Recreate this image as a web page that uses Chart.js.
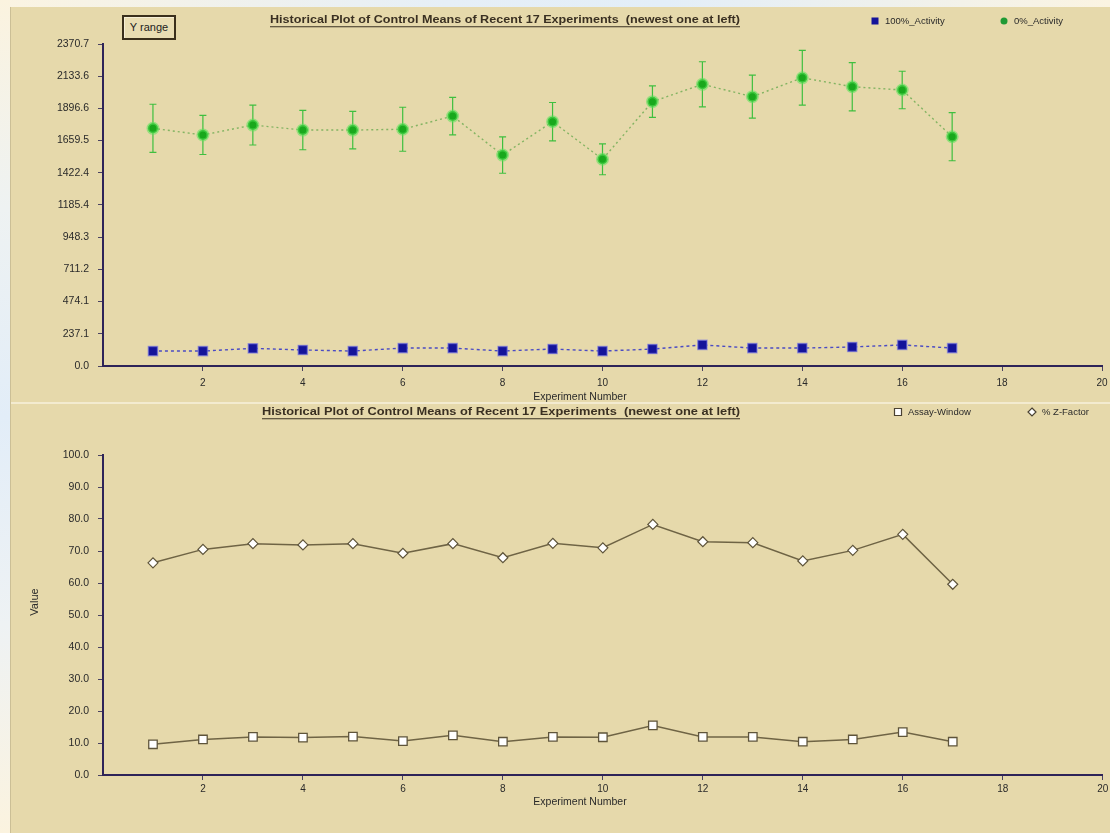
<!DOCTYPE html>
<html>
<head>
<meta charset="utf-8">
<title>Historical Plot of Control Means</title>
<script src="https://cdn.jsdelivr.net/npm/chart.js@4.4.1/dist/chart.umd.min.js"></script>
<style>
  html, body { margin: 0; padding: 0; width: 1110px; height: 833px; overflow: hidden; }
  body {
    position: relative;
    background: linear-gradient(90deg, #fbf4e2 0%, #e6eff7 40%, #e3eef8 60%, #fbf4e2 100%);
    font-family: "Liberation Sans", Arial, sans-serif;
  }
  .edge {
    position: absolute; left: 0; top: 0; width: 10px; height: 833px;
    background: linear-gradient(180deg, #fbf3df 0%, #eef2f2 25%, #e2edf8 50%, #eef2f4 75%, #fbf3df 100%);
  }
  .panel { position: absolute; left: 10px; width: 1100px; background: #e6d9ab; }
  #panelTop { top: 7px; height: 395px; }
  #panelBottom { top: 404px; height: 429px; }
  .sep { position: absolute; left: 10px; top: 402px; width: 1100px; height: 2px; background: #f3ebd0; }
  .frame { position: absolute; left: 10px; top: 7px; width: 1px; height: 826px; background: #cbbf96; }
  canvas { display: block; }
  #yRange {
    position: absolute; left: 122px; top: 15px; width: 50px; height: 21px;
    border: 2px solid #3a2f1c; box-shadow: inset 1px 1px 0 #f6efd6;
    font-size: 11px; line-height: 21px; text-align: center; color: #222;
    background: #e9ddb3;
  }
</style>
</head>
<body>
<div class="edge"></div>
<div class="panel" id="panelTop"><canvas id="topChart" width="1100" height="395"></canvas></div>
<div class="sep"></div>
<div class="panel" id="panelBottom"><canvas id="bottomChart" width="1100" height="429"></canvas></div>
<div class="frame"></div>
<div id="yRange">Y range</div>

<script>
// Experiment numbers (newest one at left)
const experiments = [1, 2, 3, 4, 5, 6, 7, 8, 9, 10, 11, 12, 13, 14, 15, 16, 17];

// Control means of the 0% and 100% activity wells
const activity0    = [1750, 1701, 1774, 1737, 1737, 1743, 1840, 1553, 1799, 1522, 1946, 2074, 1983, 2122, 2056, 2032, 1688];
const activity0Err = [177, 144, 147, 145, 138, 162, 138, 134, 141, 114, 116, 166, 158, 202, 178, 138, 177];
const activity100  = [110, 110, 130, 118, 110, 132, 132, 110, 125, 110, 125, 155, 132, 132, 140, 155, 132];

// Assay quality metrics
const assayWindow = [9.6, 11.1, 11.9, 11.7, 12.0, 10.6, 12.4, 10.4, 11.9, 11.8, 15.5, 11.9, 11.9, 10.4, 11.1, 13.4, 10.4];
const zFactor     = [66.3, 70.5, 72.3, 71.9, 72.3, 69.3, 72.3, 67.9, 72.4, 71.0, 78.3, 72.9, 72.6, 66.9, 70.2, 75.2, 59.6];

// Tick labels
const xTicks = [2, 4, 6, 8, 10, 12, 14, 16, 18, 20];
const topYTicks = [0.0, 237.1, 474.1, 711.2, 948.3, 1185.4, 1422.4, 1659.5, 1896.6, 2133.6, 2370.7];
const bottomYTicks = [0, 10, 20, 30, 40, 50, 60, 70, 80, 90, 100];

const chartTitle = 'Historical Plot of Control Means of Recent 17 Experiments  (newest one at left)';
const xTitle = 'Experiment Number';
const yTitleBottom = 'Value';

const FONT = '"Liberation Sans", Arial, sans-serif';
const AXIS_COLOR = '#2e2458';
const TEXT_COLOR = '#2a2a2a';

const pts = vals => experiments.map((x, i) => ({ x: x, y: vals[i] }));

// Vertical error bars with caps, drawn beneath the markers
const errorBars = {
  id: 'errorBars',
  beforeDatasetsDraw(chart, args, opts) {
    if (!opts || !opts.values) return;
    const ds = chart.data.datasets[opts.datasetIndex];
    const xs = chart.scales.x, ys = chart.scales.y;
    const ctx = chart.ctx;
    ctx.save();
    ctx.strokeStyle = opts.color;
    ctx.lineWidth = opts.lineWidth;
    ds.data.forEach((p, i) => {
      const x = xs.getPixelForValue(p.x);
      const y1 = ys.getPixelForValue(p.y + opts.values[i]);
      const y2 = ys.getPixelForValue(p.y - opts.values[i]);
      ctx.beginPath();
      ctx.moveTo(x, y1); ctx.lineTo(x, y2);
      ctx.moveTo(x - opts.cap, y1); ctx.lineTo(x + opts.cap, y1);
      ctx.moveTo(x - opts.cap, y2); ctx.lineTo(x + opts.cap, y2);
      ctx.stroke();
    });
    ctx.restore();
  }
};

// Underlined title (stretched to its box width), axis titles and the inline legend
const panelText = {
  id: 'panelText',
  afterDraw(chart, args, o) {
    const ctx = chart.ctx;
    ctx.save();
    // chart title
    ctx.font = 'bold ' + o.titleSize + 'px ' + FONT;
    const natural = ctx.measureText(chartTitle).width;
    const sx = o.titleWidth / natural;
    ctx.save();
    ctx.translate(o.titleX, o.titleY);
    ctx.scale(sx, 1);
    ctx.fillStyle = '#3a3022';
    ctx.textAlign = 'center';
    ctx.textBaseline = 'middle';
    ctx.fillText(chartTitle, 0, 0);
    ctx.restore();
    ctx.strokeStyle = '#3a3022';
    ctx.lineWidth = 1;
    ctx.beginPath();
    ctx.moveTo(o.titleX - o.titleWidth / 2, o.titleY + o.titleSize / 2 + 1.5);
    ctx.lineTo(o.titleX + o.titleWidth / 2, o.titleY + o.titleSize / 2 + 1.5);
    ctx.stroke();

    // x axis title
    ctx.textAlign = 'center';
    ctx.textBaseline = 'middle';
    ctx.font = '10.5px ' + FONT;
    ctx.fillStyle = TEXT_COLOR;
    ctx.fillText(xTitle, o.xTitleX, o.xTitleY);

    // y axis title
    if (o.yTitle) {
      ctx.save();
      ctx.translate(o.yTitleX, o.yTitleY);
      ctx.rotate(-Math.PI / 2);
      ctx.font = '11px ' + FONT;
      ctx.fillText(o.yTitle, 0, 0);
      ctx.restore();
    }

    // legend
    ctx.font = '9.5px ' + FONT;
    ctx.textAlign = 'left';
    chart.data.datasets.forEach((ds, i) => {
      const lx = o.legendX[i], ly = o.legendY;
      ctx.fillStyle = ds.legendFill;
      ctx.strokeStyle = ds.legendStroke;
      ctx.lineWidth = 1.2;
      ctx.beginPath();
      if (ds.pointStyle === 'circle') {
        ctx.arc(lx, ly, 3.5, 0, Math.PI * 2);
      } else if (ds.pointStyle === 'rectRot') {
        ctx.moveTo(lx, ly - 4); ctx.lineTo(lx + 4, ly); ctx.lineTo(lx, ly + 4); ctx.lineTo(lx - 4, ly); ctx.closePath();
      } else {
        ctx.rect(lx - 3.5, ly - 3.5, 7, 7);
      }
      ctx.fill();
      if (ds.legendStroke) ctx.stroke();
      ctx.fillStyle = TEXT_COLOR;
      ctx.fillText(ds.label, lx + 10, ly + 0.5);
    });
    ctx.restore();
  }
};

function scalesFor(yTicks, yMax, xHeight, xPad) {
  return {
    x: {
      type: 'linear', min: 0, max: 20,
      afterBuildTicks: s => { s.ticks = xTicks.map(v => ({ value: v })); },
      afterFit: s => { s.height = xHeight; s.paddingLeft = 0; s.paddingRight = 0; },
      ticks: { autoSkip: false, maxRotation: 0, padding: xPad, color: TEXT_COLOR,
               font: { family: FONT, size: 10 }, callback: v => String(v) },
      grid: { drawOnChartArea: false, drawTicks: true, tickLength: 5, color: '#4a4262', lineWidth: 1 },
      border: { display: true, color: AXIS_COLOR, width: 2 }
    },
    y: {
      type: 'linear', min: 0, max: yMax,
      afterBuildTicks: s => { s.ticks = yTicks.map(v => ({ value: v })); },
      afterFit: s => { s.width = 93; s.paddingTop = 0; s.paddingBottom = 0; },
      ticks: { autoSkip: false, padding: 9, color: TEXT_COLOR,
               font: { family: FONT, size: 10.5 }, callback: v => Number(v).toFixed(1) },
      grid: { drawOnChartArea: false, drawTicks: true, tickLength: 5, color: '#4a4262', lineWidth: 1 },
      border: { display: true, color: AXIS_COLOR, width: 2 }
    }
  };
}

Chart.register(errorBars, panelText);

new Chart(document.getElementById('topChart'), {
  type: 'line',
  data: {
    datasets: [
      {
        label: '100%_Activity', data: pts(activity100),
        borderColor: '#4b4bc4', borderWidth: 1.4, borderDash: [3, 3],
        pointStyle: 'rect', pointRadius: 6.5, pointBackgroundColor: '#14139a',
        pointBorderColor: 'rgba(110,110,230,0.55)', pointBorderWidth: 1.5,
        legendFill: '#14139a', legendStroke: null
      },
      {
        label: '0%_Activity', data: pts(activity0),
        borderColor: 'rgba(120,175,90,0.9)', borderWidth: 1.4, borderDash: [2, 3],
        pointStyle: 'circle', pointRadius: 5, pointBackgroundColor: '#19a81c',
        pointBorderColor: 'rgba(90,225,90,0.55)', pointBorderWidth: 3,
        legendFill: '#1f9a35', legendStroke: null
      }
    ]
  },
  options: {
    responsive: false, animation: false, events: [],
    layout: { padding: { top: 37, right: 2, left: 0, bottom: 0 } },
    scales: scalesFor(topYTicks, 2370.7, 36, 6),
    plugins: {
      legend: { display: false }, title: { display: false }, tooltip: { enabled: false },
      errorBars: { datasetIndex: 1, values: activity0Err, color: '#3fbf3f', lineWidth: 1.2, cap: 3.5 },
      panelText: {
        titleSize: 10.5, titleWidth: 470, titleX: 495, titleY: 13,
        xTitleX: 570, xTitleY: 390,
        yTitle: null,
        legendX: [865, 994], legendY: 14
      }
    }
  }
});

new Chart(document.getElementById('bottomChart'), {
  type: 'line',
  data: {
    datasets: [
      {
        label: 'Assay-Window', data: pts(assayWindow),
        borderColor: '#6f6445', borderWidth: 1.5,
        pointStyle: 'rect', pointRadius: 6, pointBackgroundColor: '#ffffff',
        pointBorderColor: '#5e543a', pointBorderWidth: 1.3,
        legendFill: '#ffffff', legendStroke: '#4a4232'
      },
      {
        label: '% Z-Factor', data: pts(zFactor),
        borderColor: '#6f6445', borderWidth: 1.5,
        pointStyle: 'rectRot', pointRadius: 5, pointBackgroundColor: '#ffffff',
        pointBorderColor: '#5e543a', pointBorderWidth: 1.2,
        legendFill: '#ffffff', legendStroke: '#4a4232'
      }
    ]
  },
  options: {
    responsive: false, animation: false, events: [],
    layout: { padding: { top: 51, right: 2, left: 0, bottom: 0 } },
    scales: scalesFor(bottomYTicks, 100, 58, 3),
    plugins: {
      legend: { display: false }, title: { display: false }, tooltip: { enabled: false },
      errorBars: false,
      panelText: {
        titleSize: 10.5, titleWidth: 478, titleX: 491, titleY: 8,
        xTitleX: 570, xTitleY: 398,
        yTitle: yTitleBottom, yTitleX: 25, yTitleY: 198,
        legendX: [888, 1022], legendY: 8
      }
    }
  }
});
</script>
</body>
</html>
